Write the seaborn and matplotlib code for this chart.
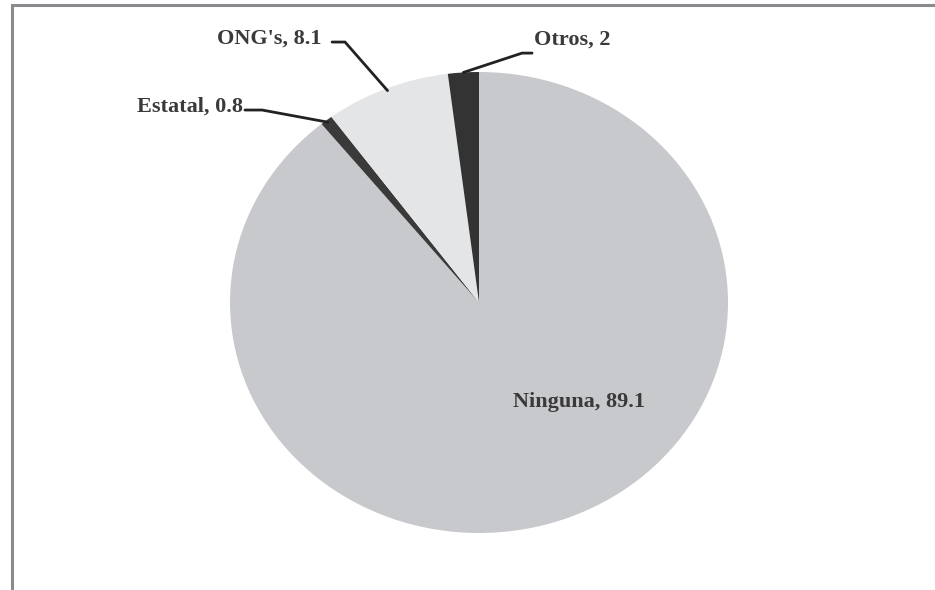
import numpy as np
import matplotlib
matplotlib.use("Agg")
import matplotlib.pyplot as plt
import seaborn as sns
from matplotlib.patches import Rectangle

# Data
categories = ["Ninguna", "Estatal", "ONG's", "Otros"]
values = [89.1, 0.8, 8.1, 2]
colors = ["#c8c9cc", "#3a3a3a", "#e4e5e7", "#333333"]

sns.set_theme(style="white")
plt.rcParams["font.family"] = ["Liberation Serif", "DejaVu Serif"]

W, H = 935, 590
fig = plt.figure(figsize=(W / 100, H / 100), dpi=100)
fig.patch.set_facecolor("white")

# pie box in pixels (pie is slightly squashed vertically in the source)
cx, cy, rx, ry = 479, 302.5, 249, 230.5
ax = fig.add_axes([(cx - rx) / W, (H - cy - ry) / H, 2 * rx / W, 2 * ry / H])

wedges, _ = ax.pie(
    values,
    colors=colors,
    startangle=90,
    counterclock=False,
    wedgeprops={"linewidth": 0},
)
ax.set_aspect("auto")
ax.set_xlim(-1, 1)
ax.set_ylim(-1, 1)
ax.axis("off")

txt_kw = dict(fontsize=16, fontweight="bold", color="#3a3a3a")


def rim_point(w, r=0.99):
    ang = np.deg2rad((w.theta1 + w.theta2) / 2)
    return r * np.cos(ang), r * np.sin(ang)


def label(text, value):
    return f"{text}, {value:g}"


# Ninguna label inside the slice
ax.text(0.40, -0.43, label(categories[0], values[0]), ha="center", va="center", **txt_kw)

# Estatal
ax_, ay_ = rim_point(wedges[1])
ax.plot([ax_, -0.871, -0.94], [ay_, 0.835, 0.835], color="#222222", lw=2, clip_on=False)
ax.text(-0.948, 0.85, label(categories[1], values[1]), ha="right", va="center", **txt_kw)

# ONG's
ax_, ay_ = rim_point(wedges[2])
ax.plot([ax_, -0.538, -0.59], [ay_, 1.13, 1.13], color="#222222", lw=2, clip_on=False)
ax.text(-0.633, 1.145, label(categories[2], values[2]), ha="right", va="center", **txt_kw)

# Otros
ax_, ay_ = rim_point(wedges[3], r=1.0)
ax.plot([ax_, 0.173, 0.213], [ay_, 1.082, 1.082], color="#222222", lw=2, clip_on=False)
ax.text(0.22, 1.14, label(categories[3], values[3]), ha="left", va="center", **txt_kw)

# frame around the figure (open to the right and bottom like the scan)
fig.patches.append(Rectangle((11.5 / W, -0.05), 1.2, (H - 4.5) / H + 0.05,
                             transform=fig.transFigure, fill=False,
                             edgecolor="#8a8b8f", linewidth=2.2))

fig.savefig("out.png", dpi=100)
